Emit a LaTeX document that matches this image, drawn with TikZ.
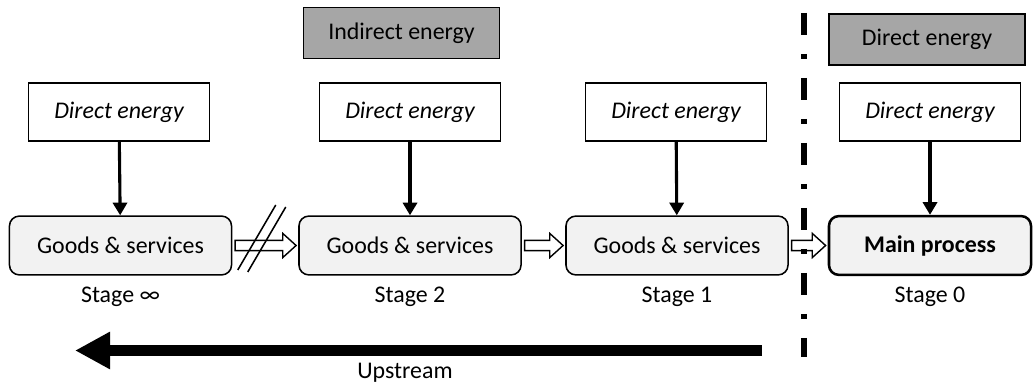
\documentclass[tikz,border=0pt]{standalone}
\usepackage{fontspec}
\setmainfont{Carlito}
\usetikzlibrary{arrows.meta,calc}
\definecolor{boxgray}{RGB}{242,242,242}
\definecolor{indgray}{RGB}{166,166,166}

% hollow block arrow from one stage box to the next
\newcommand{\hollowArr}[2]{%
  \draw [hollowArr] let \p1=(#1.east), \p2=(#2.west) in
    (\x1+2pt,\y1+3.6pt) -- (\x2-11pt,\y1+3.6pt) -- (\x2-11pt,\y1+8.6pt)
    -- (\x2-1.5pt,\y1) -- (\x2-11pt,\y1-8.6pt) -- (\x2-11pt,\y1-3.6pt)
    -- (\x1+2pt,\y1-3.6pt) -- cycle;}

\begin{document}
\begin{tikzpicture}[
x=0.025cm, y=-0.025cm,
every node/.style = {
	font=\fontsize{17}{20}\selectfont
	},
goods/.style = {
	draw, line width=1.1pt, fill=boxgray, rounded corners=7pt,
	minimum width=5.55cm, minimum height=1.47cm
	},
mainBox/.style = {
	goods, line width=1.8pt, minimum width=5.05cm,
	font=\fontsize{17}{20}\selectfont\bfseries
	},
direct/.style = {
	draw, line width=1.1pt, fill=white,
	minimum width=4.52cm, minimum height=1.45cm,
	font=\fontsize{17}{20}\selectfont\itshape
	},
energyBox/.style = {
	draw, line width=1pt, fill=indgray,
	minimum width=4.9cm, minimum height=1.28cm
	},
energyArr/.style = {
	line width=2.2pt, -{Triangle[length=9pt,width=10pt]}
	},
hollowArr/.style = {
	draw, line width=1pt, fill=white, line join=miter
	},
slash/.style = {
	line width=1.1pt
	},
upArr/.style = {
	line width=8.5pt, -{Triangle[length=25pt,width=25pt]}
	},
divider/.style = {
	line width=4.3pt, dash pattern=on 15.6pt off 13.5pt on 3.6pt off 13.5pt
	}
]
\useasboundingbox (0,0) rectangle (1036,385);

% TOP ENERGY NODES
\node [energyBox] (indirect) at (401.5,33) {Indirect energy};
\node [energyBox] (directTop) at (927,39.5) {Direct energy};

% DIRECT ENERGY NODES
\node [direct] (dInf) at (119,112) {Direct energy};
\node [direct] (d2) at (410,112) {Direct energy};
\node [direct] (d1) at (676,112) {Direct energy};
\node [direct] (d0) at (930,112) {Direct energy};

% STAGE NODES
\node [goods] (gInf) at (120.5,245.5) {Goods \& services};
\node [goods] (g2) at (410,245.5) {Goods \& services};
\node [goods] (g1) at (677,245.5) {Goods \& services};
\node [mainBox] (g0) at (930,245.5) {Main process};

\node (sInf) at (120.5,297) {Stage ∞};
\node (s2) at (410,297) {Stage 2};
\node (s1) at (677,297) {Stage 1};
\node (s0) at (930,297) {Stage 0};

% PATHS
\draw [energyArr] (dInf) -- (gInf);
\draw [energyArr] (d2) -- (g2);
\draw [energyArr] (d1) -- (g1);
\draw [energyArr] (d0) -- (g0);

\hollowArr{gInf}{g2}
\hollowArr{g2}{g1}
\hollowArr{g1}{g0}

\coordinate (cut) at ($(gInf.east)!0.5!(g2.west)$);
\draw [slash] ([shift={(-27.5,24.5)}]cut) -- ([shift={(10.5,-40.5)}]cut);
\draw [slash] ([shift={(-17.5,26.5)}]cut) -- ([shift={(20.5,-38.5)}]cut);

% DIVIDER
\coordinate (divTop) at (804,13);
\coordinate (divBot) at (804,357);
\draw [divider] (divTop) -- (divBot);

% UPSTREAM
\coordinate (upR) at (762,350.5);
\coordinate (upL) at (75,350.5);
\draw [upArr] (upR) -- (upL);
\node (upLbl) at (405,373) {Upstream};
\end{tikzpicture}
\end{document}
